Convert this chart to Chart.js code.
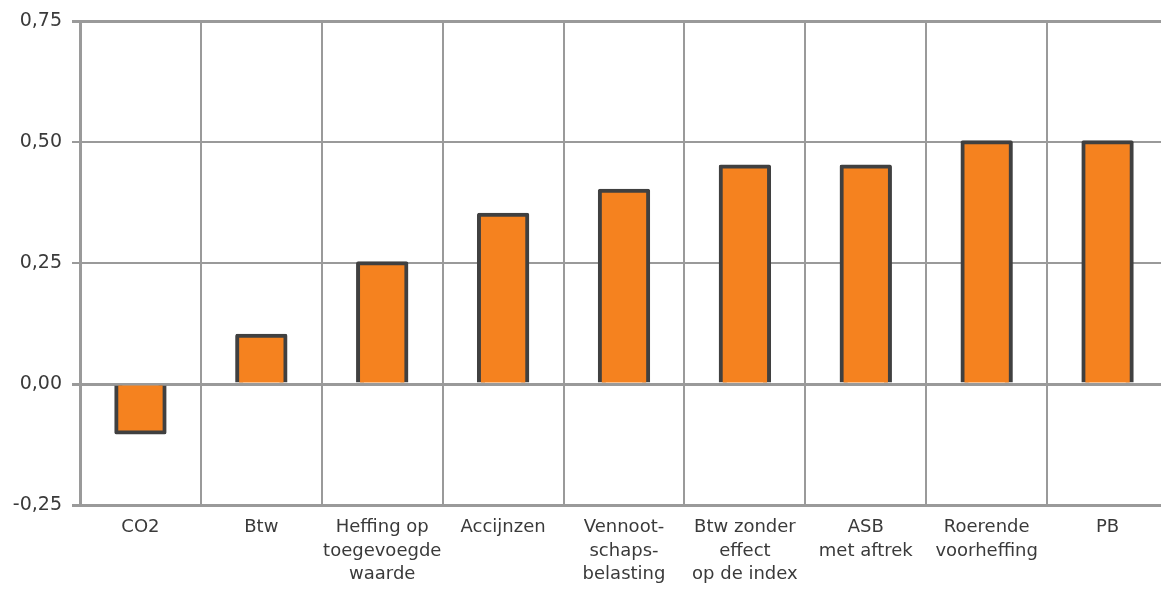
<!DOCTYPE html>
<html>
<head>
<meta charset="utf-8">
<script src="https://cdn.jsdelivr.net/npm/chart.js@4"></script>
<style>
    html, body { margin: 0; padding: 0; background: #fff; overflow: hidden; }
    #wrap { width: 1168px; height: 590px; }
</style>
</head>
<body>
<div id="wrap"><canvas id="taxChart"></canvas></div>
<script>
const categories = [
    'CO2',
    'Btw',
    ['Heffing op', 'toegevoegde', 'waarde'],
    'Accijnzen',
    ['Vennoot-', 'schaps-', 'belasting'],
    ['Btw zonder', 'effect', 'op de index'],
    ['ASB', 'met aftrek'],
    ['Roerende', 'voorheffing'],
    'PB'
];
const values = [-0.10, 0.10, 0.25, 0.35, 0.40, 0.45, 0.45, 0.50, 0.50];
const yTicks = [-0.25, 0, 0.25, 0.5, 0.75];

const textColor = '#3a3a3a';
const gridColor = '#9a9a9a';

const ctx = document.getElementById('taxChart').getContext('2d');
new Chart(ctx, {
    type: 'bar',
    data: {
        labels: categories,
        datasets: [{
            data: values,
            backgroundColor: '#F5821F',
            borderColor: '#404040',
            borderWidth: 4,
            borderRadius: 2,
            inflateAmount: 2, // border sits on the value line, like the original
            barPercentage: 0.40,
            categoryPercentage: 1
        }]
    },
    options: {
        responsive: true,
        maintainAspectRatio: false,
        animation: false,
        layout: { padding: { top: 19, right: 0, left: 0, bottom: 0 } },
        plugins: {
            legend: { display: false },
            tooltip: { enabled: false }
        },
        scales: {
            x: {
                grid: { color: gridColor, lineWidth: 2, drawTicks: false, offset: true },
                border: { display: false },
                ticks: {
                    color: textColor,
                    font: { family: 'DejaVu Sans', size: 18, lineHeight: 1.3 },
                    padding: 11,
                    maxRotation: 0,
                    autoSkip: false
                },
                afterFit: function (scale) { scale.height = 85; }
            },
            y: {
                min: -0.25,
                max: 0.75,
                afterBuildTicks: function (scale) {
                    scale.ticks = yTicks.map(v => ({ value: v }));
                },
                grid: {
                    color: gridColor,
                    tickLength: 8,
                    lineWidth: function (c) {
                        const v = c.tick ? c.tick.value : 0;
                        return (v === 0.75 || v === 0 || v === -0.25) ? 3 : 2;
                    }
                },
                border: { color: gridColor, width: 3 },
                ticks: {
                    color: textColor,
                    font: { family: 'DejaVu Sans', size: 19 },
                    padding: 10,
                    callback: function (v) { return v.toFixed(2).replace('.', ','); }
                },
                afterFit: function (scale) { scale.width = 80; }
            }
        }
    }
});
</script>
</body>
</html>
